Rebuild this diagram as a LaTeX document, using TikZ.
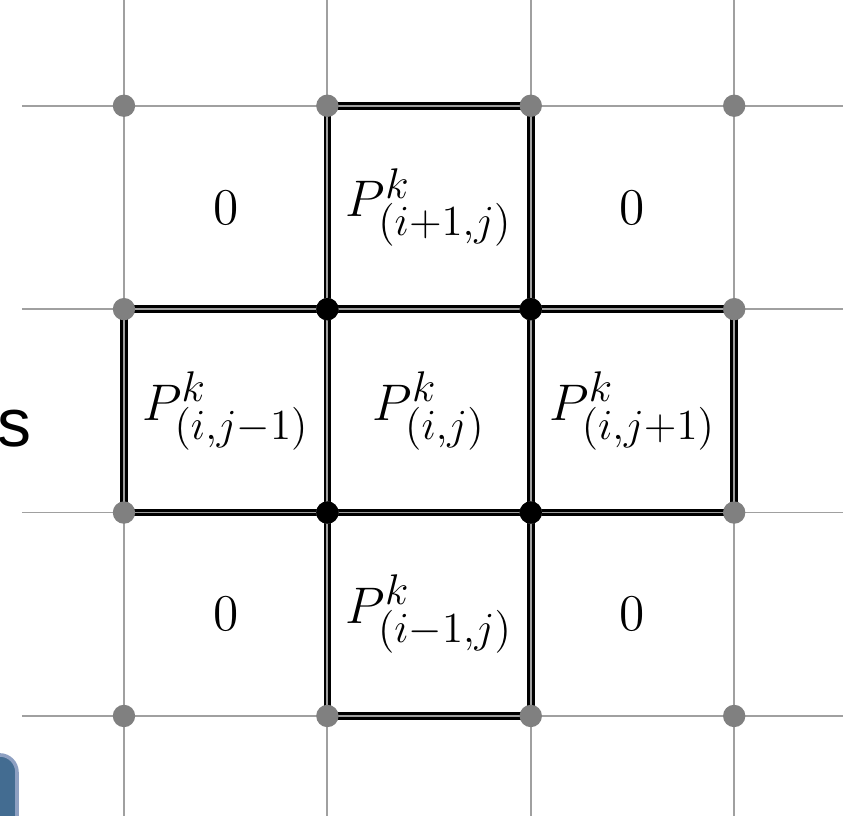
\documentclass[tikz,border=0pt]{standalone}
\usepackage{fontspec}
\newfontfamily\labelfont{Liberation Sans}
\DeclareMathSizes{14.4}{14.4}{12}{9}
\definecolor{gridGray}{HTML}{A0A0A0}
\definecolor{dotGray}{HTML}{808080}
\definecolor{tabFill}{HTML}{436C91}
\definecolor{tabStroke}{HTML}{8EA0C2}

\begin{document}
\begin{tikzpicture}[
    font=\fontsize{14.4}{17}\selectfont,
    gridline/.style={draw=gridGray, line width=0.5pt},
    edge/.style={draw=black, line width=2.1pt},
    dot/.style={circle, fill=dotGray, inner sep=0pt, minimum size=2.2mm},
    hub/.style={circle, fill=black, inner sep=0pt, minimum size=2.2mm},
    cell/.style={inner sep=0pt}
]
    \useasboundingbox (-1.219,-0.983) rectangle (7.070,7.040);

    % grid vertices, column i, row j
    \foreach \i in {0,...,3}
        \foreach \j in {0,...,3}
            \coordinate (v\i\j) at (2*\i,2*\j);

    % stencil outline
    \draw[edge] (v10) -- (v13);
    \draw[edge] (v20) -- (v23);
    \draw[edge] (v13) -- (v23);
    \draw[edge] (v10) -- (v20);
    \draw[edge] (v02) -- (v32);
    \draw[edge] (v01) -- (v31);
    \draw[edge] (v01) -- (v02);
    \draw[edge] (v31) -- (v32);

    % grid
    \foreach \x in {0,2,4,6}
        \draw[gridline] (\x,-0.983) -- (\x,7.04);
    \foreach \y in {0,2,4,6}
        \draw[gridline] (-1.003,\y) -- (7.07,\y);

    \foreach \i in {0,...,3}
        \foreach \j in {0,...,3}
            \node[dot] (d\i\j) at (v\i\j) {};
    \foreach \i/\j in {1/1,1/2,2/1,2/2}
        \node[hub] (h\i\j) at (v\i\j) {};

    \node[cell] (c02) at (1,5) {$0$};
    \node[cell] (c12) at (3,5) {$P^k_{(i+1,j)}$};
    \node[cell] (c22) at (5,5) {$0$};
    \node[cell] (c01) at (1,3) {$P^k_{(i,j-1)}$};
    \node[cell] (c11) at (3,3) {$P^k_{(i,j)}$};
    \node[cell] (c21) at (5,3) {$P^k_{(i,j+1)}$};
    \node[cell] (c00) at (1,1) {$0$};
    \node[cell] (c10) at (3,1) {$P^k_{(i-1,j)}$};
    \node[cell] (c20) at (5,1) {$0$};

    \node[inner sep=0pt, font=\labelfont\fontsize{19}{22}\selectfont] (side) at (-1.072,2.827) {s};

    \draw[fill=tabFill, draw=tabStroke, line width=1pt, rounded corners=0.17cm]
        (-1.6,-1.6) rectangle (-1.052,-0.383);
\end{tikzpicture}
\end{document}
